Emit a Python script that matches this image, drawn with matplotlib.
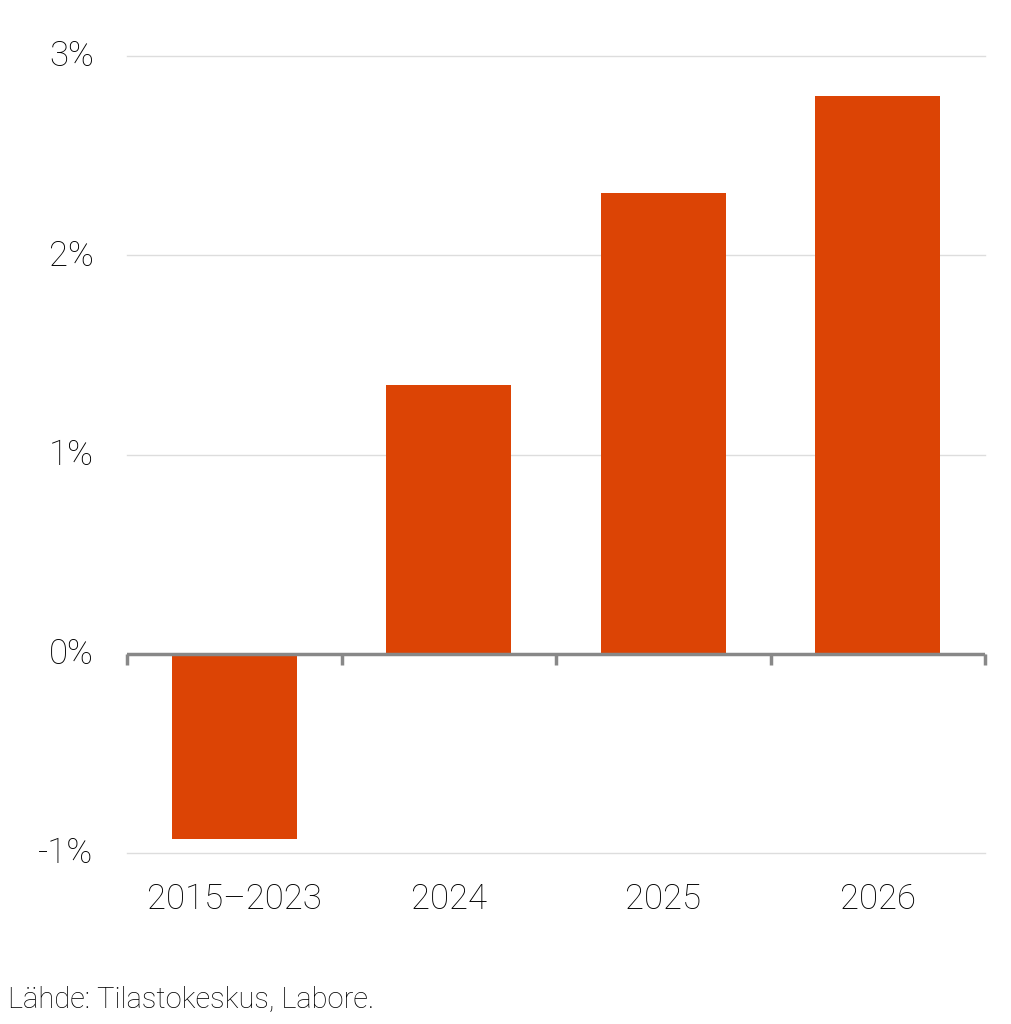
import matplotlib
matplotlib.use("Agg")
import matplotlib.pyplot as plt
import matplotlib.transforms as mtransforms
import numpy as np

categories = ["2015–2023", "2024", "2025", "2026"]
values = [-0.93, 1.35, 2.31, 2.80]
yticks = [-1, 0, 1, 2, 3]
ytick_labels = ["-1%", "0%", "1%", "2%", "3%"]
source = "Lähde: Tilastokeskus, Labore."

plt.rcParams['font.family'] = ['Roboto', 'DejaVu Sans']

fig = plt.figure(figsize=(10.11, 10.24), dpi=100)
ax = fig.add_axes([127/1011, 1-853/1024, (985-127)/1011, (853-56)/1024])

x = np.arange(len(categories))
ax.bar(x, values, width=0.585, color="#dc4405", zorder=3)

ax.set_xlim(-0.5, len(categories) - 0.5)
ax.set_ylim(-1, 3)
ax.set_yticks(yticks)
ax.set_yticklabels(ytick_labels, fontsize=25, fontweight='light', color='#000000')
ax.tick_params(axis='y', length=0, pad=24)
offset = mtransforms.ScaledTranslation(0, 3/100, fig.dpi_scale_trans)
for t in ax.get_yticklabels():
    t.set_transform(t.get_transform() + offset)

ax.set_xticks([])
for i, c in enumerate(categories):
    ax.text(i, -1.0 - 0.23, c, ha='center', va='center', fontsize=25,
            fontweight='light', color='#000000', transform=ax.transData)

for s in ax.spines.values():
    s.set_visible(False)

ax.grid(axis='y', color='#dddddd', linewidth=1, zorder=0)
for gl in ax.get_ygridlines():
    gl.set_clip_on(False)
ax.set_axisbelow(True)

# zero line with boundary ticks
ax.axhline(0, color='#888888', linewidth=2.5, zorder=4)
for b in np.arange(-0.5, len(categories), 1.0):
    ax.plot([b, b], [0, -0.055], color='#888888', linewidth=2.5, zorder=4,
            solid_capstyle='butt', clip_on=False)

fig.text(8/1011, 1-1000/1024, source, fontsize=21, fontweight='light',
         color='#000000', ha='left', va='center')

fig.savefig("out.png", dpi=100, facecolor='white')
